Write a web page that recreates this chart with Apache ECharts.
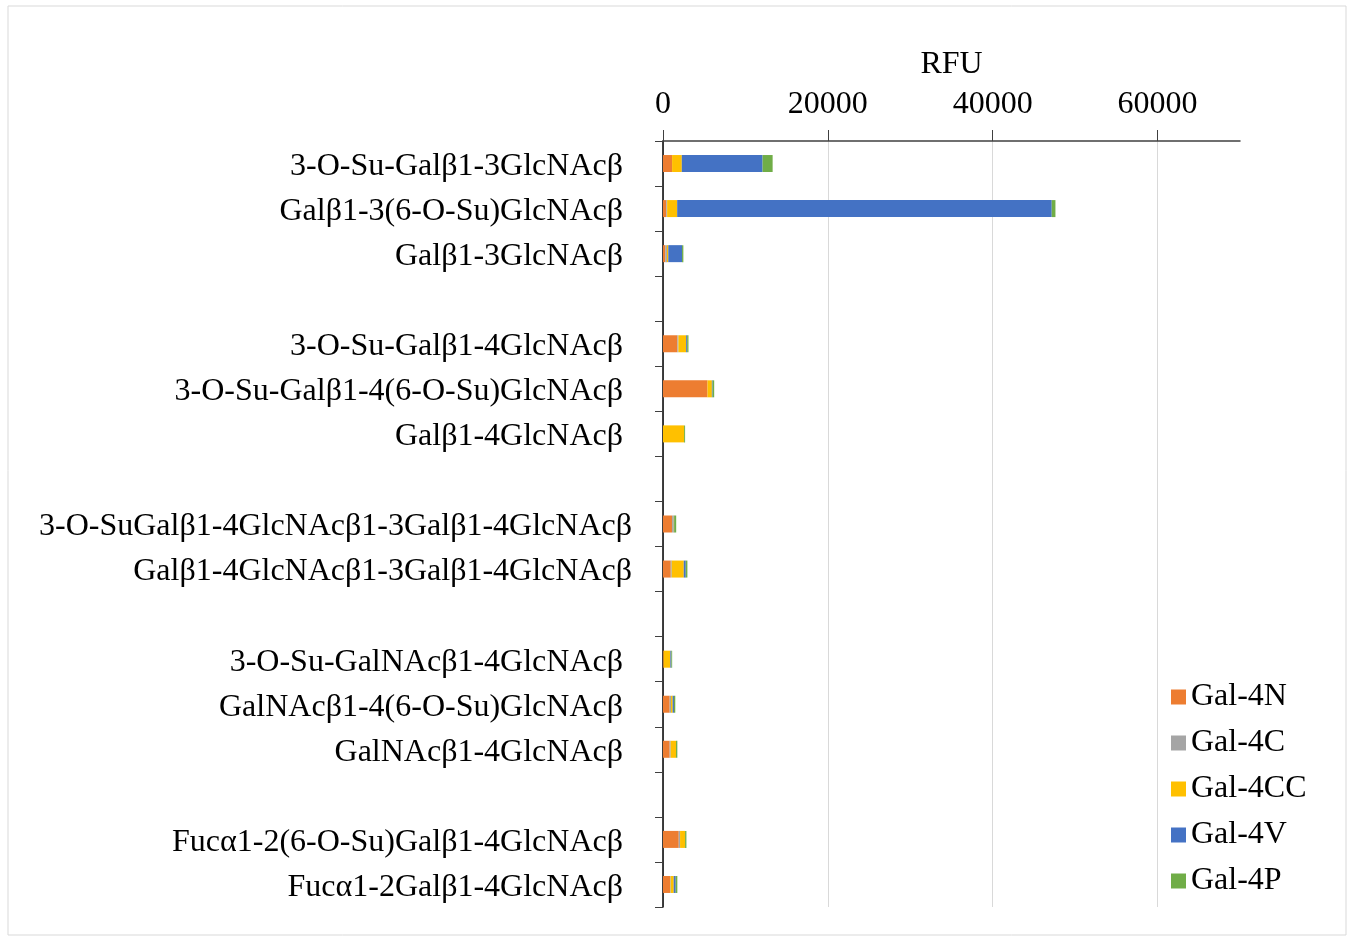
<!DOCTYPE html>
<html>
<head>
<meta charset="utf-8">
<script src="https://cdn.jsdelivr.net/npm/echarts@6/dist/echarts.min.js"></script>
<style>
  html, body { margin: 0; padding: 0; background: #fff; }
  #chart { width: 1349px; height: 937px; }
</style>
</head>
<body>
<div id="chart"></div>
<script>
// glycan categories, top to bottom ('' = spacer rows between groups)
const categories = [
    '3-O-Su-Galβ1-3GlcNAcβ',
    'Galβ1-3(6-O-Su)GlcNAcβ',
    'Galβ1-3GlcNAcβ',
    '',
    '3-O-Su-Galβ1-4GlcNAcβ',
    '3-O-Su-Galβ1-4(6-O-Su)GlcNAcβ',
    'Galβ1-4GlcNAcβ',
    '',
    '3-O-SuGalβ1-4GlcNAcβ1-3Galβ1-4GlcNAcβ',
    'Galβ1-4GlcNAcβ1-3Galβ1-4GlcNAcβ',
    '',
    '3-O-Su-GalNAcβ1-4GlcNAcβ',
    'GalNAcβ1-4(6-O-Su)GlcNAcβ',
    'GalNAcβ1-4GlcNAcβ',
    '',
    'Fucα1-2(6-O-Su)Galβ1-4GlcNAcβ',
    'Fucα1-2Galβ1-4GlcNAcβ'
];

const gal4N  = [1100, 400, 280, null, 1750, 5400, 0, null, 1100, 940, null, 80, 810, 810, null, 1910, 850];
const gal4C  = [0, 100, 200, null, 120, 0, 0, null, 150, 120, null, 0, 160, 120, null, 160, 80];
const gal4CC = [1180, 1220, 160, null, 940, 530, 2560, null, 50, 1460, null, 810, 200, 650, null, 610, 370];
const gal4V  = [9800, 45440, 1670, null, 120, 80, 0, null, 50, 240, null, 120, 160, 0, null, 0, 240];
const gal4P  = [1220, 450, 160, null, 160, 200, 120, null, 250, 200, null, 100, 160, 160, null, 160, 200];

const xTicks = [0, 20000, 40000, 60000];

const font = 'Liberation Serif, Times New Roman, serif';
const chart = echarts.init(document.getElementById('chart'));

const mkSeries = (name, data, color) => ({
    name: name,
    type: 'bar',
    stack: 'rfu',
    barWidth: 17,
    data: data,
    itemStyle: { color: color },
    emphasis: { disabled: true }
});

chart.setOption({
    backgroundColor: '#fff',
    animation: false,
    graphic: [{
        type: 'rect',
        shape: { x: 8, y: 6, width: 1338, height: 929 },
        style: { fill: 'none', stroke: '#d9d9d9', lineWidth: 1 },
        silent: true
    }],
    grid: {
        left: 663,
        right: 109,
        top: 141,
        bottom: 30,
        containLabel: false
    },
    legend: {
        orient: 'vertical',
        left: 1166,
        top: 676,
        itemWidth: 15,
        itemHeight: 15,
        itemGap: 14,
        icon: 'rect',
        textStyle: { fontFamily: font, fontSize: 32, color: '#000' },
        data: ['Gal-4N', 'Gal-4C', 'Gal-4CC', 'Gal-4V', 'Gal-4P']
    },
    xAxis: {
        type: 'value',
        position: 'top',
        min: 0,
        max: 70000,
        interval: 20000,
        name: 'RFU',
        nameLocation: 'middle',
        nameGap: 60,
        nameTextStyle: { fontFamily: font, fontSize: 32, color: '#000' },
        axisLine: { show: true, lineStyle: { color: '#404040', width: 1.5 } },
        axisTick: { show: true, length: 11, customValues: xTicks, lineStyle: { color: '#404040' } },
        axisLabel: {
            fontFamily: font,
            fontSize: 32,
            color: '#000',
            margin: 20,
            customValues: xTicks,
            formatter: v => String(v)
        },
        splitLine: { show: true, customValues: xTicks, lineStyle: { color: '#d9d9d9', width: 1 } }
    },
    yAxis: {
        type: 'category',
        inverse: true,
        data: categories,
        axisLine: { show: true, lineStyle: { color: '#000', width: 1.5 } },
        axisTick: { show: true, length: 8, lineStyle: { color: '#404040' } },
        axisLabel: {
            color: '#000',
            margin: 31,
            interval: 0,
            // the two long tetrasaccharide labels sit a little closer to the axis
            formatter: v => !v ? '' : (v.length > 30 ? '{l|' + v + '}' : '{c|' + v + '}'),
            rich: {
                c: { fontFamily: font, fontSize: 32, color: '#000', padding: [6, 9, 0, 0] },
                l: { fontFamily: font, fontSize: 32, color: '#000', padding: [6, 0, 0, 0] }
            }
        }
    },
    series: [
        mkSeries('Gal-4N', gal4N, '#ED7D31'),
        mkSeries('Gal-4C', gal4C, '#A5A5A5'),
        mkSeries('Gal-4CC', gal4CC, '#FFC000'),
        mkSeries('Gal-4V', gal4V, '#4472C4'),
        mkSeries('Gal-4P', gal4P, '#70AD47')
    ]
});
</script>
</body>
</html>
